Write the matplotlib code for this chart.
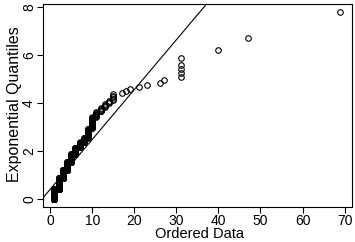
import numpy as np
import matplotlib
matplotlib.use("Agg")
import matplotlib.pyplot as plt

plt.rcParams['font.family'] = ['Liberation Sans', 'DejaVu Sans']

values = [1, 2, 3, 4, 5, 6, 7, 8, 9, 10, 11, 12, 13, 14, 15,
          17, 18, 19, 21, 23, 26, 27, 31, 40, 47, 69]
counts = [419, 295, 146, 101, 73, 45, 27, 20, 30, 24, 8, 5, 4, 3, 5,
          1, 1, 1, 1, 1, 1, 1, 5, 1, 1, 1]

# reference line
line_intercept = 0.42
line_slope = 0.207

xticks = [0, 10, 20, 30, 40, 50, 60, 70]
yticks = [0, 2, 4, 6, 8]

data = np.sort(np.repeat(values, counts))
n = len(data)
p = (np.arange(1, n + 1) - 0.5) / n
quant = -np.log(1 - p)

fig = plt.figure(figsize=(3.55, 2.42), dpi=100)
ax = fig.add_axes([0.121, 0.145, 0.870, 0.838])

ax.plot(data, quant, linestyle='none', marker='o', markersize=4.0,
        markerfacecolor='none', markeredgecolor='black', markeredgewidth=0.8)

# R style 4% padding
def pad(lo, hi):
    d = (hi - lo) * 0.04
    return lo - d, hi + d

xl = pad(data.min(), data.max())
yl = pad(quant.min(), quant.max())
xx = np.array(xl)
ax.plot(xx, line_intercept + line_slope * xx, color='black', linewidth=0.8)
ax.set_xlim(xl)
ax.set_ylim(yl)

ax.set_xticks(xticks)
ax.set_yticks(yticks)
ax.tick_params(direction='out', length=4, width=0.8, labelsize=10, pad=1)
for lab in ax.get_yticklabels():
    lab.set_rotation(90)
    lab.set_va('center')
for s in ax.spines.values():
    s.set_linewidth(0.8)

fig.text(0.563, 0.035, 'Ordered Data', fontsize=10.5, ha='center', va='center')
fig.text(0.040, 0.57, 'Exponential Quantiles', fontsize=11.5, ha='center',
         va='center', rotation=90)

fig.savefig('out.png', dpi=100)
